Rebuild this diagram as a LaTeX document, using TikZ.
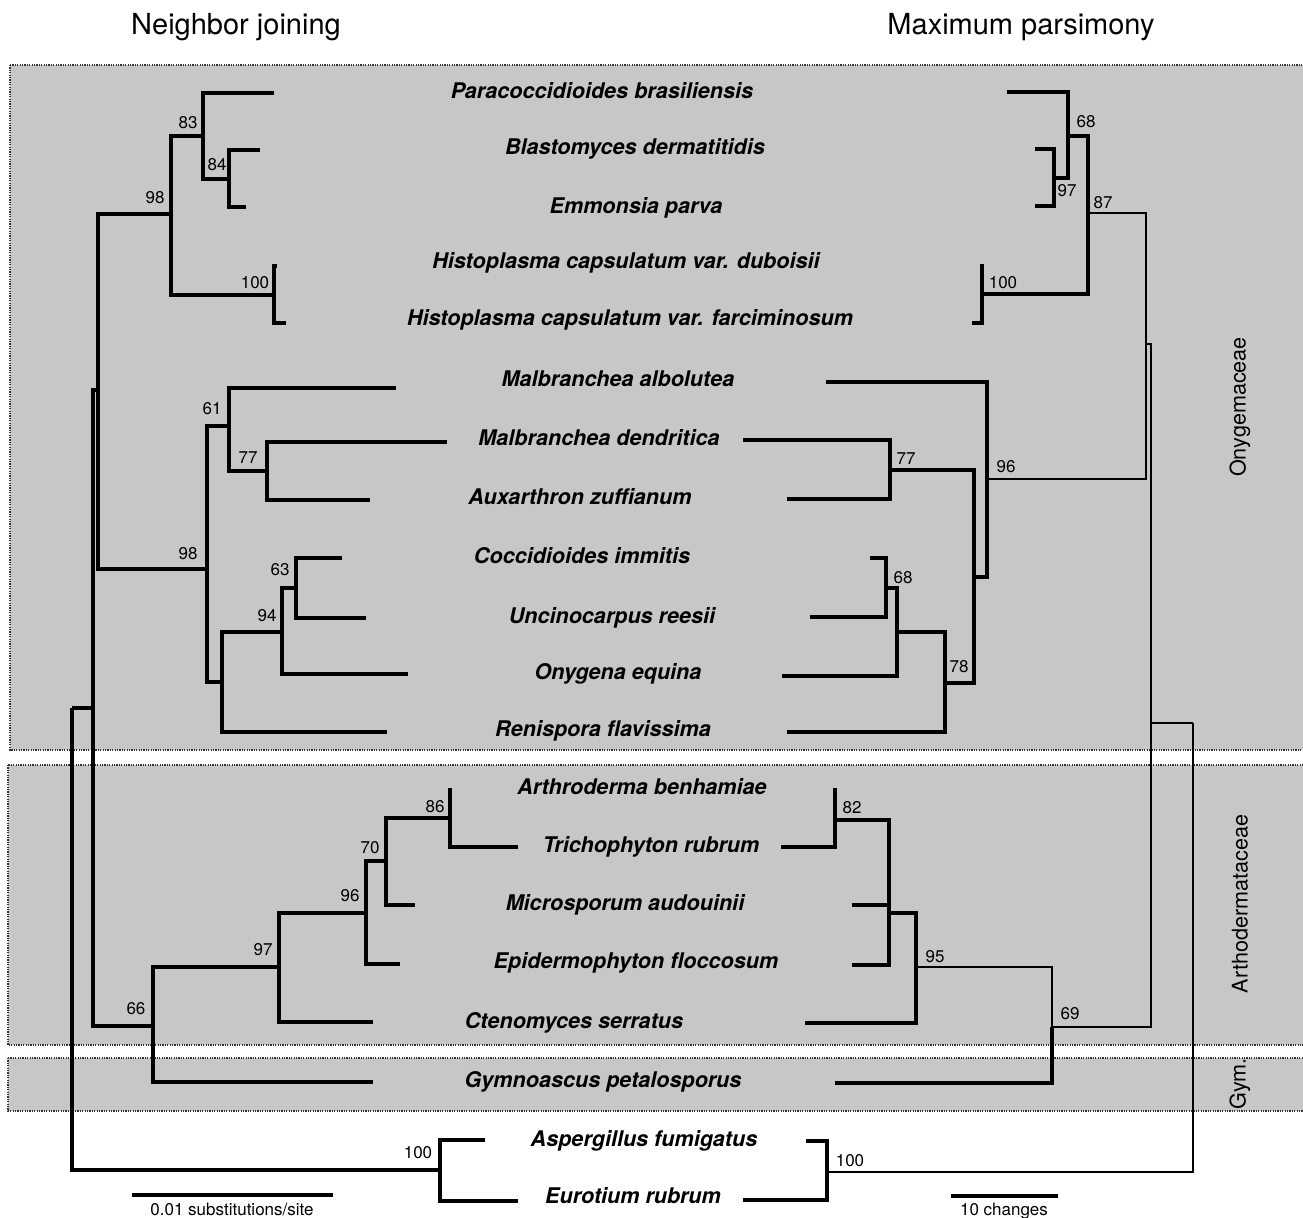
\documentclass[tikz,border=0pt]{standalone}
\usepackage{fontspec}
\setmainfont{TeX Gyre Heros}
\begin{document}
\begin{tikzpicture}[x=0.5pt,y=-0.5pt,
  branch/.style={line width=1.6pt,line join=miter},
  thinbranch/.style={line width=1.45pt,line join=miter},
  taxon/.style={anchor=base,inner sep=0pt,font=\fontsize{10.8}{13}\selectfont\bfseries\itshape},
  boot/.style={anchor=base,inner sep=0pt,font=\fontsize{8.5}{10}\selectfont},
  clade/.style={rotate=90,inner sep=0pt,font=\fontsize{10.8}{13}\selectfont},
  heading/.style={anchor=base,inner sep=0pt,font=\fontsize{14.5}{17}\selectfont},
  panel/.style={fill=black!22,draw=black!80,line width=0.8pt,dash pattern=on 0.6pt off 0.6pt}]
\useasboundingbox (0,0) rectangle (1303,1218);
\clip (0,0) rectangle (1303,1218);
% family panels
\draw[panel] (10,65) rectangle (1320,750);
\draw[panel] (8,765) rectangle (1320,1045);
\draw[panel] (8,1058) rectangle (1320,1111);
\node[clade](onyg)at(1240,407){Onygemaceae};
\node[clade](arth)at(1240,904){Arthodermataceae};
\node[clade](gym)at(1240,1084){Gym.};
% headings
\node[heading](njtitle)at(236,35){Neighbor joining};
\node[heading](mptitle)at(1021,35){Maximum parsimony};
% taxa
\node[taxon](Para)at(602,99){Paracoccidioides brasiliensis};
\node[taxon](Blas)at(635,155){Blastomyces dermatitidis};
\node[taxon](Emmo)at(636,214){Emmonsia parva};
\node[taxon](Hdub)at(626,269){Histoplasma capsulatum var. duboisii};
\node[taxon](Hfar)at(630,326){Histoplasma capsulatum var. farciminosum};
\node[taxon](Malb)at(618,387){Malbranchea albolutea};
\node[taxon](Mden)at(599,446){Malbranchea dendritica};
\node[taxon](Auxa)at(580,505){Auxarthron zuffianum};
\node[taxon](Cocc)at(582,564){Coccidioides immitis};
\node[taxon](Unci)at(612,624){Uncinocarpus reesii};
\node[taxon](Onye)at(618,680){Onygena equina};
\node[taxon](Reni)at(603,737){Renispora flavissima};
\node[taxon](Arth)at(642,795){Arthroderma benhamiae};
\node[taxon](Tric)at(651,853){Trichophyton rubrum};
\node[taxon](Micr)at(625,911){Microsporum audouinii};
\node[taxon](Epid)at(636,969){Epidermophyton floccosum};
\node[taxon](Cten)at(574,1029){Ctenomyces serratus};
\node[taxon](Gymn)at(603,1088){Gymnoascus petalosporus};
\node[taxon](Aspe)at(644,1147){Aspergillus fumigatus};
\node[taxon](Euro)at(633,1204){Eurotium rubrum};
% neighbor joining tree
\coordinate(njPara)at(274,93);   \coordinate(njBlas)at(260,150);
\coordinate(njEmmo)at(246,207);  \coordinate(njHdub)at(277,266);
\coordinate(njHfar)at(286,323);  \coordinate(njMalb)at(396,388);
\coordinate(njMden)at(447,442);  \coordinate(njAuxa)at(370,500);
\coordinate(njCocc)at(342,558);  \coordinate(njUnci)at(366,618);
\coordinate(njOnye)at(408,674);  \coordinate(njReni)at(387,732);
\coordinate(njArth)at(450,788);  \coordinate(njTric)at(518,847);
\coordinate(njMicr)at(415,905);  \coordinate(njEpid)at(400,964);
\coordinate(njCten)at(373,1022); \coordinate(njGymn)at(373,1082);
\coordinate(njAspe)at(485,1140); \coordinate(njEuro)at(518,1201);
\coordinate(nj83)at(203,136);  \coordinate(nj84)at(229,179);
\coordinate(njHis)at(274,295); \coordinate(njPB)at(171,214);
\coordinate(nj61)at(229,426);  \coordinate(nj77)at(267,471);
\coordinate(nj63)at(296,588);  \coordinate(nj94)at(282,632);
\coordinate(njRN)at(222,682);  \coordinate(njMC)at(207,569);
\coordinate(njOny)at(98,390);  \coordinate(nj86)at(450,818);
\coordinate(nj70)at(386,861);  \coordinate(nj96)at(366,913);
\coordinate(nj97)at(279,967);  \coordinate(nj66)at(153,1026);
\coordinate(njIn)at(93,708);   \coordinate(njBase)at(72,708);
\coordinate(njOut)at(440,1170);
\draw[branch](nj83)|-(njPara) (nj83)|-(nj84);
\draw[branch](nj84)|-(njBlas) (nj84)|-(njEmmo);
\draw[branch](njHis)|-(njHdub) (njHis)|-(njHfar);
\draw[branch](njPB)|-(nj83) (njPB)|-(njHis);
\draw[branch](nj61)|-(njMalb) (nj61)|-(nj77);
\draw[branch](nj77)|-(njMden) (nj77)|-(njAuxa);
\draw[branch](nj63)|-(njCocc) (nj63)|-(njUnci);
\draw[branch](nj94)|-(nj63) (nj94)|-(njOnye);
\draw[branch](njRN)|-(nj94) (njRN)|-(njReni);
\draw[branch](njMC)|-(nj61) (njMC)|-(njRN);
\draw[branch](njOny)|-(njPB) (njOny)|-(njMC);
\draw[branch](nj86)|-(njArth) (nj86)|-(njTric);
\draw[branch](nj70)|-(nj86) (nj70)|-(njMicr);
\draw[branch](nj96)|-(nj70) (nj96)|-(njEpid);
\draw[branch](nj97)|-(nj96) (nj97)|-(njCten);
\draw[branch](nj66)|-(nj97) (nj66)|-(njGymn);
\draw[branch](njIn)|-(njOny) (njIn)|-(nj66);
\draw[branch](njBase)|-(njIn) (njBase)|-(njOut);
\draw[branch](njOut)|-(njAspe) (njOut)|-(njEuro);
\node[boot](b83)at(188,129){83};   \node[boot](b84)at(217,171){84};
\node[boot](b98a)at(155,204){98};  \node[boot](b100a)at(255,289){100};
\node[boot](b61)at(212,415){61};   \node[boot](b77)at(248,464){77};
\node[boot](b98b)at(188,560){98};  \node[boot](b63)at(280,576){63};
\node[boot](b94)at(267,622){94};   \node[boot](b86)at(435,813){86};
\node[boot](b70)at(370,854){70};   \node[boot](b96)at(350,902){96};
\node[boot](b97)at(263,956){97};   \node[boot](b66)at(136,1015){66};
\node[boot](b100b)at(418,1159){100};
% maximum parsimony tree
\coordinate(mpPara)at(1007,92);  \coordinate(mpBlas)at(1035,149);
\coordinate(mpEmmo)at(1035,206); \coordinate(mpHdub)at(982,264);
\coordinate(mpHfar)at(972,323);  \coordinate(mpMalb)at(826,382);
\coordinate(mpMden)at(743,440);  \coordinate(mpAuxa)at(787,499);
\coordinate(mpCocc)at(870,558);  \coordinate(mpUnci)at(810,617);
\coordinate(mpOnye)at(782,676);  \coordinate(mpReni)at(787,732);
\coordinate(mpArth)at(835,788);  \coordinate(mpTric)at(781,847);
\coordinate(mpMicr)at(852,905);  \coordinate(mpEpid)at(852,965);
\coordinate(mpCten)at(805,1023); \coordinate(mpGymn)at(835,1083);
\coordinate(mpAspe)at(806,1141); \coordinate(mpEuro)at(743,1200);
\coordinate(mp97)at(1054,178);  \coordinate(mp68)at(1068,136);
\coordinate(mpHis)at(982,294);  \coordinate(mp87)at(1088,213);
\coordinate(mp77)at(890,470);   \coordinate(mp68b)at(886,588);
\coordinate(mpUO)at(897,632);   \coordinate(mp78)at(945,683);
\coordinate(mpMC)at(974,577);   \coordinate(mp96)at(987,479);
\coordinate(mpOny)at(1146,344); \coordinate(mp82)at(835,820);
\coordinate(mpDer)at(889,913);  \coordinate(mp95)at(916,967);
\coordinate(mp69)at(1052,1027); \coordinate(mpIn)at(1151,723);
\coordinate(mpBase)at(1193,723);\coordinate(mpOut)at(827,1172);
\draw[branch](mp97)|-(mpBlas) (mp97)|-(mpEmmo);
\draw[branch](mp68)|-(mpPara) (mp68)|-(mp97);
\draw[branch](mpHis)|-(mpHdub) (mpHis)|-(mpHfar);
\draw[branch](mp87)|-(mp68) (mp87)|-(mpHis);
\draw[branch](mp77)|-(mpMden) (mp77)|-(mpAuxa);
\draw[branch](mp68b)|-(mpCocc) (mp68b)|-(mpUnci);
\draw[branch](mpUO)|-(mp68b) (mpUO)|-(mpOnye);
\draw[branch](mp78)|-(mpUO) (mp78)|-(mpReni);
\draw[branch](mpMC)|-(mp77) (mpMC)|-(mp78);
\draw[branch](mp96)|-(mpMalb) (mp96)|-(mpMC);
\draw[thinbranch](mpOny)|-(mp87) (mpOny)|-(mp96);
\draw[branch](mp82)|-(mpArth) (mp82)|-(mpTric);
\draw[branch](mpDer)|-(mp82) (mpDer)|-(mpMicr) (mpDer)|-(mpEpid);
\draw[branch](mp95)|-(mpDer) (mp95)|-(mpCten);
\draw[thinbranch](mp69)|-(mp95);
\draw[branch](mp69)|-(mpGymn);
\draw[thinbranch](mpIn)|-(mpOny) (mpIn)|-(mp69);
\draw[thinbranch](mpBase)|-(mpIn) (mpBase)|-(mpOut);
\draw[branch](mpOut)|-(mpAspe) (mpOut)|-(mpEuro);
\node[boot](c68a)at(1086,128){68};  \node[boot](c97)at(1067,197){97};
\node[boot](c87)at(1103,209){87};   \node[boot](c100a)at(1003,289){100};
\node[boot](c96)at(1006,473){96};   \node[boot](c77)at(906,465){77};
\node[boot](c68b)at(903,584){68};   \node[boot](c78)at(959,673){78};
\node[boot](c82)at(852,814){82};    \node[boot](c95)at(935,963){95};
\node[boot](c69)at(1070,1020){69};  \node[boot](c100b)at(850,1167){100};
% scale bars
\coordinate(njbarL)at(132,1195); \coordinate(njbarR)at(333,1195);
\draw[branch](njbarL)--(njbarR);
\node[boot](njscale)at(232,1216){0.01 substitutions/site};
\coordinate(mpbarL)at(951,1196); \coordinate(mpbarR)at(1058,1196);
\draw[branch](mpbarL)--(mpbarR);
\node[boot](mpscale)at(1004,1216){10 changes};
\end{tikzpicture}
\end{document}
